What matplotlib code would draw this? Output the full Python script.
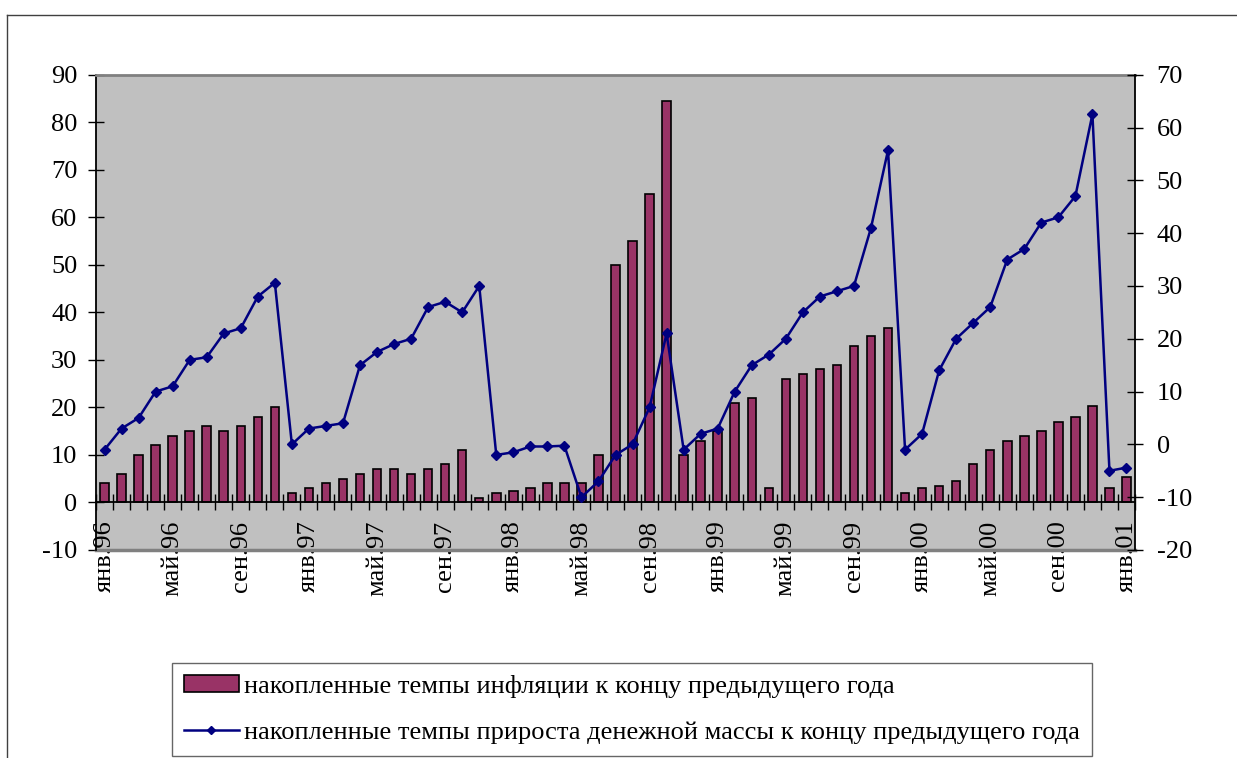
import numpy as np
import matplotlib
matplotlib.use('Agg')
import matplotlib.pyplot as plt
from matplotlib.lines import Line2D

plt.rcParams['font.family'] = ['Liberation Serif', 'DejaVu Serif']
plt.rcParams['axes.unicode_minus'] = False

# накопленные темпы инфляции (левая ось), янв.96 - янв.01
inflation = [4, 6, 10, 12, 14, 15, 16, 15, 16, 18, 20,
             2, 3, 4, 5, 6, 7, 7, 6, 7, 8, 11,
             1, 2, 2.5, 3, 4, 4, 4, 10, 50, 55, 65, 84.5,
             10, 13, 15, 21, 22, 3, 26, 27, 28, 29, 33, 35, 36.7,
             2, 3, 3.5, 4.5, 8, 11, 13, 14, 15, 17, 18, 20.3, 3, 5.3]

# накопленные темпы прироста денежной массы (правая ось)
money = [-1, 3, 5, 10, 11, 16, 16.5, 21, 22, 28, 30.6,
         0, 3, 3.5, 4, 15, 17.5, 19, 20, 26, 27, 25, 30,
         -2, -1.5, -0.4, -0.4, -0.25, -10, -7, -2, 0, 7, 21,
         -1, 2, 3, 10, 15, 17, 20, 25, 28, 29, 30, 41, 55.7,
         -1, 2, 14, 20, 23, 26, 35, 37, 42, 43, 47, 62.5, -5, -4.4]

tick_labels = ['янв.96', 'май.96', 'сен.96', 'янв.97', 'май.97', 'сен.97',
               'янв.98', 'май.98', 'сен.98', 'янв.99', 'май.99', 'сен.99',
               'янв.00', 'май.00', 'сен.00', 'янв.01']

label_infl = 'накопленные темпы инфляции к концу предыдущего года'
label_money = 'накопленные темпы прироста денежной массы к концу предыдущего года'

x = np.arange(len(inflation))
fs = 19

fig = plt.figure(figsize=(12.37, 7.58), dpi=100)
ax = fig.add_axes([96 / 1237, 1 - 550 / 758, (1135 - 96) / 1237, (550 - 74.7) / 758])
ax.set_facecolor('#C0C0C0')

bars = ax.bar(x, inflation, width=0.5, color='#993366', edgecolor='black',
              linewidth=1.2, label=label_infl, zorder=3)
ax.set_xlim(-0.5, len(x) - 0.5)
ax.set_ylim(-10, 90)
ax.set_yticks(np.arange(-10, 91, 10))

# ось категорий пересекает левую ось в нуле
ax.spines['bottom'].set_position(('data', 0))
ax.spines['bottom'].set_linewidth(1.3)
ax.spines['bottom'].set_zorder(4)
ax.spines['left'].set_linewidth(1.3)
ax.spines['right'].set_visible(False)
ax.spines['top'].set_color('#808080')
ax.spines['top'].set_linewidth(2)
ax.add_line(Line2D([0, 1], [0, 0], transform=ax.transAxes, color='#808080',
                   lw=2.5, clip_on=False))

ax.set_xticks(np.arange(0, len(x), 4))
ax.set_xticklabels(tick_labels, rotation=90, va='top', ha='center')
ax.set_xticks(np.arange(-0.5, len(x), 1), minor=True)
ax.tick_params(axis='x', which='major', length=0, pad=13, labelsize=fs)
ax.tick_params(axis='x', which='minor', direction='inout', length=11, width=1)
ax.tick_params(axis='y', direction='inout', length=11, width=1, pad=8, labelsize=fs)

ax2 = ax.twinx()
ax2.plot(x, money, color='#000080', lw=1.8, marker='D', markersize=5.5,
         label=label_money, zorder=5)
ax2.set_ylim(-20, 70)
ax2.set_yticks(np.arange(-20, 71, 10))
ax2.tick_params(axis='y', direction='inout', length=11, width=1, pad=10, labelsize=fs)
for s in ['top', 'bottom', 'left']:
    ax2.spines[s].set_visible(False)
ax2.spines['right'].set_linewidth(1.3)

leg = fig.legend(handles=[bars, ax2.get_lines()[0]],
                 labels=[label_infl, label_money],
                 loc='upper left', bbox_to_anchor=(171.7 / 1237, 1 - 662.7 / 758),
                 fontsize=fs, frameon=True, fancybox=False, edgecolor='#404040',
                 handlelength=2.1, handleheight=0.6, handletextpad=0.2,
                 labelspacing=0.9, borderpad=0.45, borderaxespad=0,
                 markerscale=0.8,
                 prop={'family': 'Liberation Serif', 'size': fs})
leg.get_frame().set_linewidth(1)

# рамка диаграммы
fig.add_artist(Line2D([7 / 1237, 7 / 1237], [0, 1 - 14.7 / 758],
                      transform=fig.transFigure, color='#404040', lw=1))
fig.add_artist(Line2D([7 / 1237, 1], [1 - 14.7 / 758, 1 - 14.7 / 758],
                      transform=fig.transFigure, color='#404040', lw=1))

fig.savefig('out.png', dpi=100)
